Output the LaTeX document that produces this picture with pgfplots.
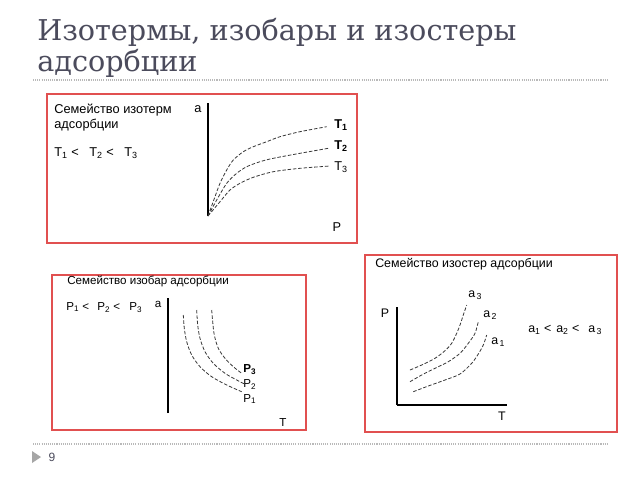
\documentclass[border=0pt]{standalone}
\usepackage{fontspec}
\setmainfont{Liberation Sans}
\newfontfamily\titlefont{DejaVu Serif}
\usepackage{pgfplots}
\pgfplotsset{compat=1.18}

\definecolor{boxred}{RGB}{225,80,80}
\definecolor{titlegray}{RGB}{75,75,92}
\definecolor{curvegray}{RGB}{55,55,55}

\pgfplotsset{
  sketch/.style={x=0.75pt, y=0.75pt, ticks=none, anchor=south west,
    clip=false, axis line style={line width=0.9pt, black}},
  iso/.style={curvegray, line width=0.6pt, dash pattern=on 2.6pt off 1.4pt,
    smooth, no markers},
}

% isotherms a(P), origin of panel 1
\pgfplotstableread{
x y
0 0
7 19.3
12 32.7
18.7 46
25.3 56
35.3 64.3
45.3 69.3
58.7 74.3
72 79.3
92 84.3
118.7 89.3
}\isoTone
\pgfplotstableread{
x y
0 0
8.7 16
18.7 32.7
28.7 42.7
38.7 49.3
52 54.3
65.3 57.7
92 62.7
120.3 67.7
}\isoTtwo
\pgfplotstableread{
x y
0 0
12 14.3
22 26
32 32.7
45.3 38.7
65.3 44.3
92 47.7
122 50
}\isoTthree

% isobars a(T)
\pgfplotstableread{
x y
15.3 98
16.3 84.7
18.7 71.3
23.7 58
32 46.3
43.7 36.3
58.7 28
73.7 21.3
}\isoPone
\pgfplotstableread{
x y
28.7 103
29.7 88
32 74.7
37 61.3
45.3 49.7
57 39.7
68.7 33
77 28.7
}\isoPtwo
\pgfplotstableread{
x y
43.7 103
44.7 91.3
46.3 78
50.3 64.7
57 54.7
65.3 46.3
73.7 39.7
}\isoPthree

% isosteres P(T)
\pgfplotstableread{
x y
16.3 13.3
31.3 19
48 25
63 31
74.7 41.7
81.3 51
86.3 60
89.7 70
}\isoAone
\pgfplotstableread{
x y
13 23.3
24.7 30
38 36.7
51.3 43.3
63 51.7
71.3 61.7
78 71.7
81.3 83.3
}\isoAtwo
\pgfplotstableread{
x y
13 35
24.7 40
38 46.7
48 54.3
54.7 61.7
59.7 71.7
63 80
66.3 90
69.7 100
}\isoAthree

\begin{document}
\begin{tikzpicture}[x=0.75pt, y=-0.75pt]
\useasboundingbox (0,0) rectangle (640,480);
\fill[white] (0,0) rectangle (640,480);

% slide title
\node[anchor=base west, inner sep=0, text=titlegray, font=\titlefont\fontsize{21.5}{25}\selectfont]
  at (37,40) {Изотермы, изобары и изостеры};
\node[anchor=base west, inner sep=0, text=titlegray, font=\titlefont\fontsize{21.5}{25}\selectfont]
  at (37,71) {адсорбции};
\draw[gray!55, line width=0.9pt, dash pattern=on 0.8pt off 0.8pt] (33,80) -- (608,80);
\draw[gray!55, line width=0.9pt, dash pattern=on 0.8pt off 0.8pt] (33,444) -- (608,444);
\fill[gray!70] (32,451) -- (41,457) -- (32,463) -- cycle;
\node[text=titlegray, font=\fontsize{9}{10}\selectfont, inner sep=0] at (52,457) {9};

% frames
\draw[boxred, line width=0.8pt] (47,94) rectangle (357,243);
\draw[boxred, line width=0.8pt] (52,275) rectangle (306,430);
\draw[boxred, line width=0.8pt] (365,255) rectangle (617,432);

\coordinate (o1) at (208,216);
\coordinate (o2) at (168,413);
\coordinate (o3) at (397,405);

% panel 1: isotherms
\begin{axis}[sketch, at={(o1)}, axis x line=none, axis y line*=left,
  xmin=0, xmax=130, ymin=0, ymax=113]
\addplot[iso] table {\isoTone};
\addplot[iso] table {\isoTtwo};
\addplot[iso] table {\isoTthree};
\end{axis}

% panel 2: isobars
\begin{axis}[sketch, at={(o2)}, axis x line=none, axis y line*=left,
  xmin=0, xmax=110, ymin=0, ymax=115]
\addplot[iso] table {\isoPone};
\addplot[iso] table {\isoPtwo};
\addplot[iso] table {\isoPthree};
\end{axis}

% panel 3: isosteres
\begin{axis}[sketch, at={(o3)}, axis lines*=left,
  xmin=0, xmax=110, ymin=0, ymax=98]
\addplot[iso] table {\isoAone};
\addplot[iso] table {\isoAtwo};
\addplot[iso] table {\isoAthree};
\end{axis}

% panel 1 text
\begin{scope}[every node/.style={inner sep=0, font=\fontsize{9.6}{11}\selectfont}]
\node[anchor=mid west] at (54,110) {Семейство изотерм};
\node[anchor=mid west] at (54,125) {адсорбции};
\node[anchor=mid west] at (54,153) {T\textsubscript{1} <};
\node[anchor=mid west] at (89,153) {T\textsubscript{2} <};
\node[anchor=mid west] at (124,153) {T\textsubscript{3}};
\node at (198,109) {a};
\node at (337,227) {P};
\node[anchor=mid west, font=\bfseries\fontsize{9.6}{11}\selectfont] at (334,125) {T\textsubscript{1}};
\node[anchor=mid west, font=\bfseries\fontsize{9.6}{11}\selectfont] at (334,146) {T\textsubscript{2}};
\node[anchor=mid west] at (334,167) {T\textsubscript{3}};
\end{scope}
% panel 2 text
\begin{scope}[every node/.style={inner sep=0, font=\fontsize{8.7}{10}\selectfont}]
\node[anchor=mid west] at (67,281) {Семейство изобар адсорбции};
\node[anchor=mid west] at (66,307) {P\textsubscript{1} <};
\node[anchor=mid west] at (97,307) {P\textsubscript{2} <};
\node[anchor=mid west] at (129,307) {P\textsubscript{3}};
\node at (158,304) {a};
\node at (283,423) {T};
\node[anchor=mid west, font=\bfseries\fontsize{8.7}{10}\selectfont] at (243,369) {P\textsubscript{3}};
\node[anchor=mid west] at (243,384) {P\textsubscript{2}};
\node[anchor=mid west] at (243,399) {P\textsubscript{1}};
\end{scope}
% panel 3 text
\begin{scope}[every node/.style={inner sep=0, font=\fontsize{9.3}{11}\selectfont}]
\node[anchor=mid west] at (375,264) {Семейство изостер адсорбции};
\node at (385,313) {P};
\node at (502,416) {T};
\node[anchor=mid west] at (468,294) {a\textsubscript{\,3}};
\node[anchor=mid west] at (483,314) {a\textsubscript{\,2}};
\node[anchor=mid west] at (491,341) {a\textsubscript{\,1}};
\node[anchor=mid west] at (528,329) {a\textsubscript{1} <};
\node[anchor=mid west] at (556,329) {a\textsubscript{2} <};
\node[anchor=mid west] at (588,329) {a\textsubscript{\,3}};
\end{scope}
\end{tikzpicture}
\end{document}
